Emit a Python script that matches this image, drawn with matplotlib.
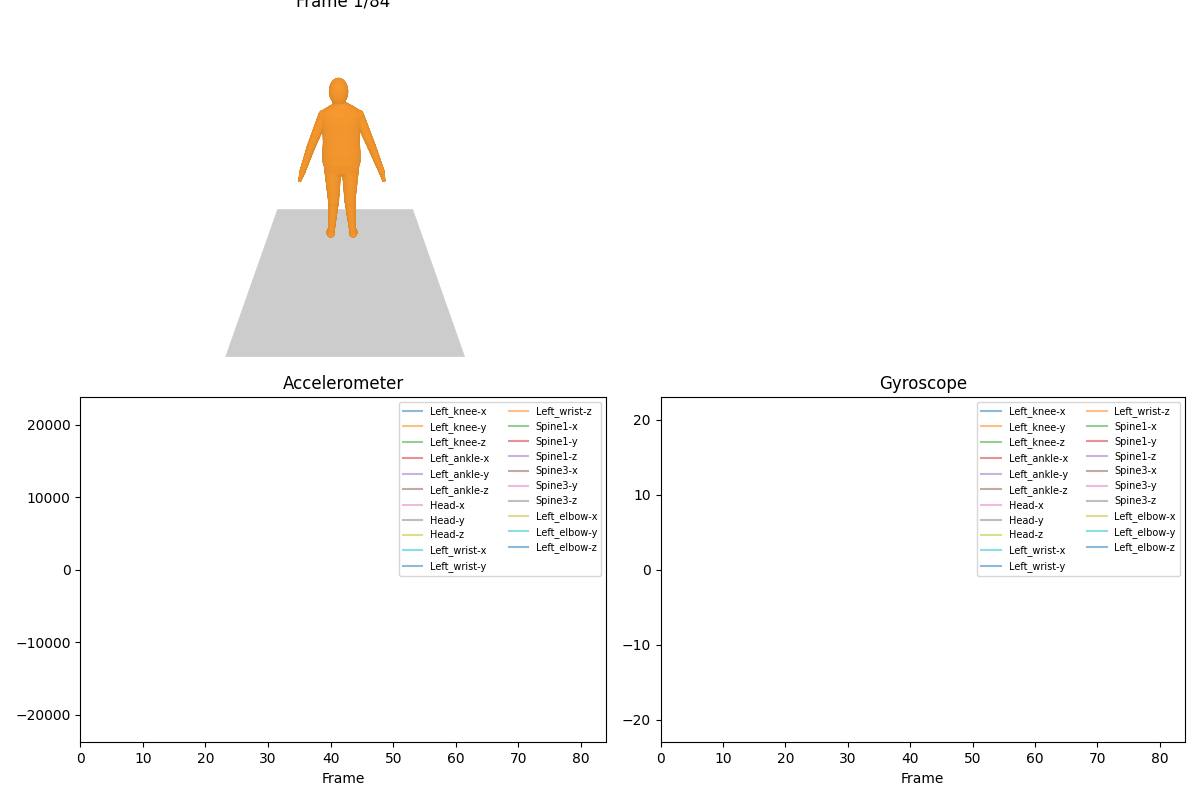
import numpy as np
import matplotlib
matplotlib.use("Agg")
import matplotlib.pyplot as plt
from mpl_toolkits.mplot3d.art3d import Poly3DCollection

n_frames = 84
frame_now = 1

joints = ['Left_knee', 'Left_ankle', 'Head', 'Left_wrist', 'Spine1', 'Spine3', 'Left_elbow']
xyz = ['x', 'y', 'z']
channel_labels = [f'{j}-{a}' for j in joints for a in xyz]

acc_lim = 23800
gyro_lim = 23

# rough body shape in metres (x right, y away from camera, z up), feet on z=0
torso_centre = (-0.03, 0.0)
torso_z = [0.78, 0.84, 0.92, 1.02, 1.12, 1.22, 1.31, 1.37, 1.41, 1.44, 1.47]
torso_rx = [0.06, 0.16, 0.178, 0.175, 0.166, 0.166, 0.172, 0.175, 0.155, 0.105, 0.05]
torso_ry = [0.05, 0.10, 0.115, 0.12, 0.115, 0.11, 0.11, 0.10, 0.085, 0.065, 0.04]

blob_centre = np.array([
    (-0.05, 0.0, 1.565),   # head
    (-0.045, 0.01, 1.47),  # neck
    (-0.155, 0.0, 0.035),  # left foot
    (0.095, 0.0, 0.035),   # right foot
])
blob_radii = np.array([
    (0.078, 0.088, 0.105),
    (0.055, 0.055, 0.07),
    (0.045, 0.075, 0.035),
    (0.045, 0.075, 0.035),
])

limb_start = np.array([
    (-0.18, 0.0, 1.365), (-0.31, 0.0, 1.07), (-0.41, -0.01, 0.81),
    (0.12, 0.0, 1.365), (0.25, 0.0, 1.07), (0.36, -0.01, 0.81),
    (-0.115, 0.0, 0.86), (-0.115, 0.0, 0.47),
    (0.055, 0.0, 0.86), (0.055, 0.0, 0.47),
])
limb_end = np.array([
    (-0.31, 0.0, 1.07), (-0.41, -0.01, 0.81), (-0.44, -0.02, 0.72),
    (0.25, 0.0, 1.07), (0.36, -0.01, 0.81), (0.385, -0.02, 0.72),
    (-0.115, 0.0, 0.47), (-0.145, 0.01, 0.08),
    (0.055, 0.0, 0.47), (0.085, 0.01, 0.08),
])
limb_r0 = np.array([0.045, 0.036, 0.026, 0.045, 0.036, 0.026, 0.082, 0.055, 0.082, 0.055])
limb_r1 = np.array([0.036, 0.026, 0.012, 0.036, 0.026, 0.012, 0.055, 0.035, 0.055, 0.035])

floor_x = (-0.862, 0.862)
floor_y = (-1.282, 0.472)
floor_z = 0.0

view_elev = 31.35
view_focal = 0.1456
box_centre = (0.0, 0.305, 0.502)
box_half = 1.152


def grid_quads(x, y, z):
    p = np.stack([x, y, z], axis=-1)
    q = np.stack([p[:-1, :-1], p[1:, :-1], p[1:, 1:], p[:-1, 1:]], axis=2)
    return q.reshape(-1, 4, 3)


def ellipsoid(c, r, nu=28, nv=16):
    u = np.linspace(0, 2 * np.pi, nu + 1)
    v = np.linspace(0, np.pi, nv + 1)
    x = c[0] + r[0] * np.outer(np.cos(u), np.sin(v))
    y = c[1] + r[1] * np.outer(np.sin(u), np.sin(v))
    z = c[2] + r[2] * np.outer(np.ones_like(u), np.cos(v))
    return grid_quads(x, y, z)


def loft(cx, cy, zs, rxs, rys, nth=32):
    th = np.linspace(0, 2 * np.pi, nth + 1)
    zs = np.concatenate([[zs[0]], zs, [zs[-1]]])
    rxs = np.concatenate([[0], rxs, [0]])
    rys = np.concatenate([[0], rys, [0]])
    x = cx + np.outer(np.cos(th), rxs)
    y = cy + np.outer(np.sin(th), rys)
    z = np.outer(np.ones_like(th), zs)
    return grid_quads(x, y, z)


def limb(p0, p1, r0, r1, nt=6, nth=20):
    a = p1 - p0
    ref = np.array([1.0, 0, 0]) if abs(a[0]) < 0.9 * np.linalg.norm(a) else np.array([0, 1.0, 0])
    n1 = np.cross(a, ref)
    n1 /= np.linalg.norm(n1)
    n2 = np.cross(a, n1)
    n2 /= np.linalg.norm(n2)
    t = np.linspace(0, 1, nt + 1)
    th = np.linspace(0, 2 * np.pi, nth + 1)
    T, TH = np.meshgrid(t, th)
    R = r0 + (r1 - r0) * T
    pts = [p0[i] + T * a[i] + R * (np.cos(TH) * n1[i] + np.sin(TH) * n2[i]) for i in range(3)]
    return np.concatenate([grid_quads(*pts),
                           ellipsoid(p0, (r0, r0, r0), 16, 10),
                           ellipsoid(p1, (r1, r1, r1), 16, 10)])


parts = [loft(*torso_centre, torso_z, torso_rx, torso_ry)]
parts += [ellipsoid(c, r) for c, r in zip(blob_centre, blob_radii)]
parts += [limb(s, e, a, b) for s, e, a, b in zip(limb_start, limb_end, limb_r0, limb_r1)]
body = np.concatenate(parts)

# simple shading: faces turned to the camera are brighter
el = np.deg2rad(view_elev)
to_cam = np.array([0, -np.cos(el), np.sin(el)])
nrm = np.cross(body[:, 2] - body[:, 0], body[:, 3] - body[:, 1])
nrm /= np.linalg.norm(nrm, axis=1, keepdims=True) + 1e-12
lit = np.abs(nrm @ to_cam)
base = np.array([0.97, 0.6, 0.18])
cols = np.clip(base[None, :] * (0.86 + 0.14 * lit)[:, None], 0, 1)

fig = plt.figure(figsize=(12, 8), dpi=100)

ax3d = fig.add_axes([168 / 1200, 1 - 359 / 800, 344 / 1200, 344 / 800], projection='3d')
ax3d.computed_zorder = False
ax3d.set_proj_type('persp', focal_length=view_focal)
ax3d.view_init(elev=view_elev, azim=-90)
ax3d.set_box_aspect((1, 1, 1))

floor = [[(floor_x[0], floor_y[0], floor_z), (floor_x[1], floor_y[0], floor_z),
          (floor_x[1], floor_y[1], floor_z), (floor_x[0], floor_y[1], floor_z)]]
ax3d.add_collection3d(Poly3DCollection(floor, facecolors='#cccccc', edgecolors='#cccccc',
                                       linewidths=0.5, zorder=1))
ax3d.add_collection3d(Poly3DCollection(body, facecolors=cols, edgecolors=cols,
                                       linewidths=0.3, zorder=2))
ax3d.set_xlim(box_centre[0] - box_half, box_centre[0] + box_half)
ax3d.set_ylim(box_centre[1] - box_half, box_centre[1] + box_half)
ax3d.set_zlim(box_centre[2] - box_half, box_centre[2] + box_half)
ax3d.set_axis_off()
ax3d.set_title(f'Frame {frame_now}/{n_frames}', x=0.5 + 3 / 344)

ax_acc = fig.add_axes([80.3 / 1200, 1 - 742.3 / 800, 525.7 / 1200, 345 / 800])
ax_gyr = fig.add_axes([660.7 / 1200, 1 - 742.3 / 800, 524 / 1200, 345 / 800])

for ax, title, lim in [(ax_acc, 'Accelerometer', acc_lim), (ax_gyr, 'Gyroscope', gyro_lim)]:
    for lab in channel_labels:
        ax.plot([], [], label=lab, alpha=0.5)
    ax.set_xlim(0, n_frames)
    ax.set_ylim(-lim, lim)
    ax.set_title(title)
    ax.set_xlabel('Frame')
    ax.legend(loc='upper right', fontsize=7, ncol=2)

fig.savefig('out.png', dpi=100)
